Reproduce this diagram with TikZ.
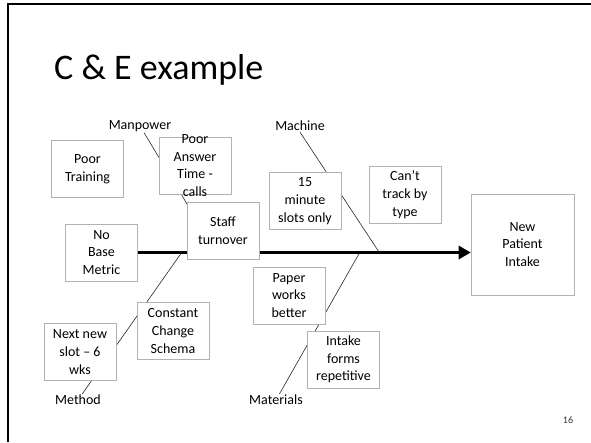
\documentclass[tikz,border=0pt]{standalone}
\usepackage{fontspec}
\setmainfont{Carlito}
\usetikzlibrary{positioning,calc,arrows,arrows.meta,backgrounds}
\tikzset{font=\fontsize{14}{17.7}\selectfont}

\begin{document}
\begin{tikzpicture}[x=1pt, y=-1pt]
	\useasboundingbox (0, 0) rectangle (591, 442);
	\draw[line width=2.5pt] (591, 4) -- (8, 4) -- (8, 442);
	\begin{scope}
		\tikzstyle{every node}=[align=center, inner sep=1pt]
		\tikzstyle{cause}=[draw=gray!60, fill=white, line width=0.6pt, minimum width=72pt, minimum height=57pt, inner ysep=-8pt]
		\tikzstyle{bone}=[draw=black!85, line width=0.6pt]

		\node[anchor=west, font=\fontsize{36}{40}\selectfont] (title) at (53, 70) {C \& E example};

		% category labels
		\node (manpower) at (140, 126) {Manpower};
		\node (machine) at (300, 126) {Machine};
		\node (materials) at (276, 400) {Materials};
		\node (method) at (78, 400) {Method};

		% causes
		\node[cause] (training) at (87.5, 169) {Poor\\Training};
		\node[cause] (answer) at (195, 165.5) {Poor\\Answer\\Time -\\calls};
		\node[cause] (staff) at (223, 230.5) {Staff\\turnover};
		\node[cause] (nobase) at (101.5, 252.5) {No\\Base\\Metric};
		\node[cause] (minute) at (305, 201) {15\\minute\\slots only};
		\node[cause] (track) at (405, 194.5) {Can’t\\track by\\type};
		\node[cause] (paper) at (289, 295.5) {Paper\\works\\better};
		\node[cause] (forms) at (343.5, 359.5) {Intake\\forms\\repetitive};
		\node[cause] (schema) at (173, 331) {Constant\\Change\\Schema};
		\node[cause] (nextslot) at (80, 352) {Next new\\slot – 6\\wks};
		\node[cause, minimum width=103pt, minimum height=101pt] (intake) at (522.5, 244.5) {New\\Patient\\Intake};

		\node[font=\fontsize{10}{12}\selectfont, text=black!80] (page) at (568, 420) {16};

		\coordinate (b1) at (216, 252);
		\coordinate (b2) at (379, 252);
		\coordinate (b3) at (360, 252);
		\coordinate (b4) at (182, 252);

		\begin{scope}[on background layer]
			\draw[bone] (manpower) -- (b1);
			\draw[bone] (machine.south) -- (b2);
			\draw[bone] (materials) -- (b3);
			\draw[bone] (method) -- (b4);
			\draw[line width=3.5pt, -{Triangle[length=12pt, width=13pt]}] (nobase.center) -- (nobase.center -| intake.west);
		\end{scope}
	\end{scope}
\end{tikzpicture}
\end{document}
